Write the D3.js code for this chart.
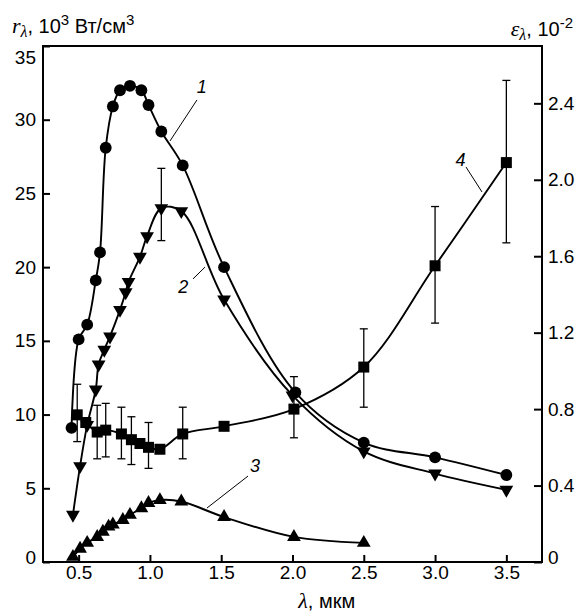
<!DOCTYPE html>
<html>
<head>
<meta charset="utf-8">
<script src="https://cdn.jsdelivr.net/npm/d3@7"></script>
<style>
  body { margin: 0; background: #fff; }
  svg { display: block; }
  .tick text { font-family: "Liberation Sans", Arial, sans-serif; font-size: 19px; fill: #000; }
  .tick line { stroke: #000; stroke-width: 2; }
</style>
</head>
<body>
<div id="chart"></div>
<script>
// curve 1: circles (left axis)
const c1X = [0.45, 0.50, 0.56, 0.62, 0.65, 0.69, 0.74, 0.79, 0.86, 0.94, 0.99, 1.08, 1.23, 1.52, 2.02, 2.50, 3.00, 3.50];
const c1Y = [9.1, 15.1, 16.1, 19.1, 21.0, 28.1, 30.9, 32.0, 32.3, 32.0, 31.0, 29.2, 26.9, 20.0, 11.5, 8.1, 7.1, 5.9];

// curve 2: down triangles (left axis)
const c2X = [0.46, 0.51, 0.56, 0.62, 0.64, 0.68, 0.72, 0.79, 0.83, 0.85, 0.93, 0.98, 1.08, 1.22, 1.52, 2.00, 2.50, 3.00, 3.50];
const c2Y = [3.2, 6.5, 9.3, 11.7, 13.4, 14.4, 15.3, 17.1, 18.3, 19.0, 20.7, 22.1, 24.0, 23.8, 17.8, 11.3, 7.5, 6.0, 4.9];
const c2ErrX = [1.08];
const c2ErrLo = [21.8];
const c2ErrHi = [26.7];

// curve 3: up triangles (left axis)
const c3X = [0.46, 0.51, 0.56, 0.63, 0.67, 0.71, 0.74, 0.81, 0.86, 0.94, 0.99, 1.07, 1.22, 1.52, 2.01, 2.50];
const c3Y = [0.35, 0.9, 1.3, 1.7, 2.05, 2.4, 2.55, 2.85, 3.2, 3.65, 4.0, 4.2, 4.1, 3.05, 1.7, 1.3];

// curve 4: squares (right axis, emissivity)
const c4X = [0.49, 0.55, 0.63, 0.69, 0.80, 0.87, 0.93, 0.99, 1.07, 1.23, 1.52, 2.01, 2.50, 3.00, 3.50];
const c4Y = [0.77, 0.73, 0.68, 0.69, 0.67, 0.64, 0.62, 0.60, 0.59, 0.67, 0.71, 0.80, 1.02, 1.55, 2.09];
const c4Lo = [0.63, null, 0.54, 0.55, 0.54, 0.51, null, 0.49, null, 0.54, null, 0.65, 0.81, 1.25, 1.67];
const c4Hi = [0.93, null, 0.82, 0.83, 0.81, 0.76, null, 0.73, null, 0.81, null, 0.97, 1.22, 1.86, 2.52];

const xTicks = [0.5, 1.0, 1.5, 2.0, 2.5, 3.0, 3.5];
const leftTicks = [0, 5, 10, 15, 20, 25, 30, 35];
const rightTicks = [0, 0.4, 0.8, 1.2, 1.6, 2.0, 2.4];

// curve numbers and their leader lines, in data units (x: мкм, y: left axis)
const labelText = ['1', '2', '3', '4'];
const labelX = [1.363, 1.234, 1.737, 3.178];
const labelY = [31.81, 18.25, 6.1, 26.86];
const leaderX1 = [1.330, 1.302, 1.400, 3.217];
const leaderY1 = [31.34, 19.2, 3.66, 26.79];
const leaderX2 = [1.141, 1.386, 1.688, 3.329];
const leaderY2 = [28.56, 20.0, 5.83, 25.1];

const W = 580, H = 612;
const margin = { top: 46, right: 38, bottom: 50, left: 43 };
const width = W - margin.left - margin.right;
const height = H - margin.top - margin.bottom;
const sans = '"Liberation Sans", Arial, sans-serif';
const serif = '"Liberation Serif", "DejaVu Serif", serif';

const svg = d3.select('#chart')
    .append('svg')
    .attr('width', W)
    .attr('height', H);

const g = svg.append('g')
    .attr('transform', `translate(${margin.left},${margin.top})`);

const x = d3.scaleLinear().domain([0.25, 3.75]).range([0, width]);
const yL = d3.scaleLinear().domain([0, 35]).range([height, 0]);
const yR = d3.scaleLinear().domain([0, 2.7]).range([height, 0]);

// axes, ticks pointing inward
const xAxis = g.append('g')
    .attr('transform', `translate(0,${height})`)
    .call(d3.axisBottom(x).tickValues(xTicks).tickSize(-7).tickPadding(4).tickFormat(d3.format('.1f')));

const leftAxis = g.append('g')
    .call(d3.axisLeft(yL).tickValues(leftTicks).tickSize(-7).tickPadding(7));
leftAxis.selectAll('.tick text')
    .attr('dy', d => d === 35 ? '0.9em' : d === 0 ? '0.1em' : '0.32em');

const rightAxis = g.append('g')
    .attr('transform', `translate(${width},0)`)
    .call(d3.axisRight(yR).tickValues(rightTicks).tickSize(-8).tickPadding(6)
        .tickFormat(d => d === 0 ? '0' : d3.format('.1f')(d)));
rightAxis.selectAll('.tick text')
    .attr('dy', d => d === 0 ? '0.1em' : '0.32em');

[xAxis, leftAxis, rightAxis].forEach(a => a.select('.domain').remove());

// frame
g.append('rect')
    .attr('width', width)
    .attr('height', height)
    .attr('fill', 'none')
    .attr('stroke', '#000')
    .attr('stroke-width', 2);

const zip = (xs, ys) => xs.map((v, i) => [v, ys[i]]);

const lineL = d3.line().x(d => x(d[0])).y(d => yL(d[1])).curve(d3.curveCatmullRom.alpha(0.5));
const lineR = d3.line().x(d => x(d[0])).y(d => yR(d[1])).curve(d3.curveCatmullRom.alpha(0.5));

const series = [
    { pts: zip(c1X, c1Y), line: lineL, y: yL, sym: d3.symbolCircle, size: 110, rot: 0 },
    { pts: zip(c2X, c2Y), line: lineL, y: yL, sym: d3.symbolTriangle, size: 82, rot: 180 },
    { pts: zip(c3X, c3Y), line: lineL, y: yL, sym: d3.symbolTriangle, size: 82, rot: 0 },
    { pts: zip(c4X, c4Y), line: lineR, y: yR, sym: d3.symbolSquare, size: 121, rot: 0 }
];

// error bars
const drawErr = (xs, lo, hi, yScale) => {
    const bars = xs.map((v, i) => ({ x: v, lo: lo[i], hi: hi[i] })).filter(d => d.lo !== null);
    const eg = g.append('g').attr('stroke', '#000').attr('stroke-width', 1.3);
    bars.forEach(d => {
        eg.append('line').attr('x1', x(d.x)).attr('x2', x(d.x)).attr('y1', yScale(d.lo)).attr('y2', yScale(d.hi));
        eg.append('line').attr('x1', x(d.x) - 4).attr('x2', x(d.x) + 4).attr('y1', yScale(d.lo)).attr('y2', yScale(d.lo));
        eg.append('line').attr('x1', x(d.x) - 4).attr('x2', x(d.x) + 4).attr('y1', yScale(d.hi)).attr('y2', yScale(d.hi));
    });
};
drawErr(c4X, c4Lo, c4Hi, yR);
drawErr(c2ErrX, c2ErrLo, c2ErrHi, yL);

series.forEach(s => {
    g.append('path')
        .datum(s.pts)
        .attr('d', s.line)
        .attr('fill', 'none')
        .attr('stroke', '#000')
        .attr('stroke-width', 1.9);
});

series.forEach(s => {
    g.append('g')
        .selectAll('path')
        .data(s.pts)
        .join('path')
        .attr('d', d3.symbol().type(s.sym).size(s.size))
        .attr('transform', d => `translate(${x(d[0])},${s.y(d[1])}) rotate(${s.rot})`)
        .attr('fill', '#000');
});

// curve numbers
labelText.forEach((t, i) => {
    g.append('line')
        .attr('x1', x(leaderX1[i])).attr('y1', yL(leaderY1[i]))
        .attr('x2', x(leaderX2[i])).attr('y2', yL(leaderY2[i]))
        .attr('stroke', '#000')
        .attr('stroke-width', 1);
    g.append('text')
        .attr('x', x(labelX[i]))
        .attr('y', yL(labelY[i]))
        .attr('text-anchor', 'middle')
        .style('font-family', sans)
        .style('font-style', 'italic')
        .style('font-size', '18px')
        .text(t);
});

// axis titles
const tl = svg.append('text')
    .attr('x', 12)
    .attr('y', 33)
    .style('font-family', sans)
    .style('font-size', '20px');
tl.append('tspan').style('font-family', serif).style('font-style', 'italic').style('font-size', '22px').text('r');
tl.append('tspan').style('font-family', serif).style('font-style', 'italic').style('font-size', '16px').attr('dy', 4).text('λ');
tl.append('tspan').attr('dy', -4).text(', 10');
tl.append('tspan').style('font-size', '15px').attr('dy', -8).text('3');
tl.append('tspan').attr('dy', 8).text(' Вт/см');
tl.append('tspan').style('font-size', '15px').attr('dy', -8).text('3');

const tr = svg.append('text')
    .attr('x', 573)
    .attr('y', 36)
    .attr('text-anchor', 'end')
    .style('font-family', sans)
    .style('font-size', '20px');
tr.append('tspan').style('font-family', serif).style('font-style', 'italic').style('font-size', '22px').text('ε');
tr.append('tspan').style('font-family', serif).style('font-style', 'italic').style('font-size', '16px').attr('dy', 4).text('λ');
tr.append('tspan').attr('dy', -4).text(', 10');
tr.append('tspan').style('font-size', '15px').attr('dy', -8).text('-2');

const bt = svg.append('text')
    .attr('x', margin.left + x(2.24))
    .attr('y', 608)
    .attr('text-anchor', 'middle')
    .style('font-family', sans)
    .style('font-size', '20px');
bt.append('tspan').style('font-family', serif).style('font-style', 'italic').style('font-size', '22px').text('λ');
bt.append('tspan').text(', мкм');
</script>
</body>
</html>
